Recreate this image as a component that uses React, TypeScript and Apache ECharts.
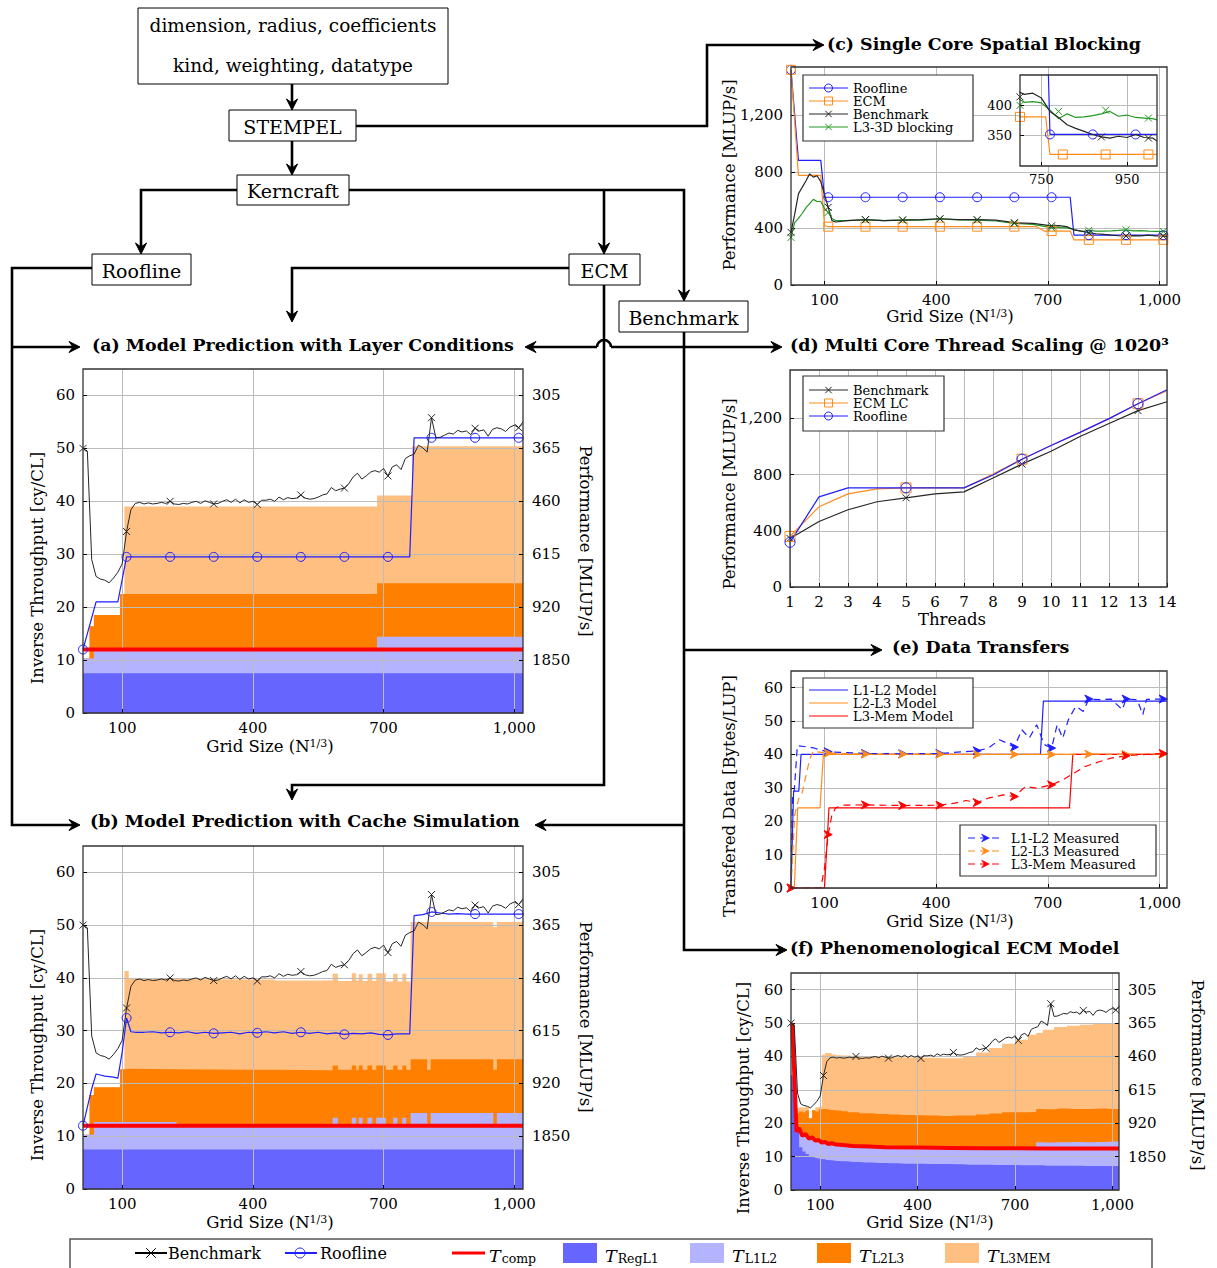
import React, { useEffect, useRef } from "react";
import * as echarts from "echarts";

const SERIF = '"DejaVu Serif", "Liberation Serif", serif';
const W = 1217;
const H = 1268;

const C_REG = "#6666ff";
const C_L1L2 = "#b3b3ff";
const C_L2L3 = "#ff8000";
const C_L3MEM = "#ffbf80";
const C_BLUE = "#1f1fff";
const C_ORANGE = "#ff8c1a";
const C_RED = "#ff0000";
const C_GREEN = "#229922";
const C_BLACK = "#262626";

// ---------- shared axis ticks ----------
const gridTicks = [100, 400, 700, 1000];
const cyTicks = [0, 10, 20, 30, 40, 50, 60];
const perfTickValues = [10, 20, 30, 40, 50, 60];
const perfTickLabels = ["1850", "920", "615", "460", "365", "305"];
const mlupTicks = [0, 400, 800, 1200];

// ---------- measured benchmark (cy/CL) used in (a), (b), (f) ----------
const gridSizes = [
  10, 20, 30, 40, 50, 60, 70, 80, 90, 100, 110, 120, 130, 140, 150, 160, 170, 180, 190, 200,
  210, 220, 230, 240, 250, 260, 270, 280, 290, 300, 310, 320, 330, 340, 350, 360, 370, 380, 390, 400,
  410, 420, 430, 440, 450, 460, 470, 480, 490, 500, 510, 520, 530, 540, 550, 560, 570, 580, 590, 600,
  610, 620, 630, 640, 650, 660, 670, 680, 690, 700, 710, 720, 730, 740, 750, 760, 770, 780, 790, 800,
  810, 820, 830, 840, 850, 860, 870, 880, 890, 900, 910, 920, 930, 940, 950, 960, 970, 980, 990, 1000,
  1010, 1020,
];
const benchmarkCy = [
  50.0, 49.5, 29.0, 25.8, 25.3, 25.1, 24.6, 25.5, 26.6, 28.2,
  34.3, 38.4, 39.6, 39.8, 39.5, 39.7, 39.5, 39.6, 39.8, 39.6,
  40.0, 39.5, 39.4, 39.6, 39.5, 39.8, 40.0, 39.6, 40.1, 39.8,
  39.5, 39.6, 40.0, 40.3, 39.8, 40.4, 39.7, 40.3, 39.8, 40.0,
  39.4, 40.2, 40.2, 40.4, 40.0, 40.8, 40.3, 40.7, 40.5, 40.6,
  41.2, 40.6, 40.4, 40.5, 40.8, 41.2, 41.4, 42.6, 42.0, 42.3,
  42.5, 43.3, 44.6, 45.3, 44.2, 44.8, 45.5, 45.8, 45.5, 46.2,
  44.8, 46.5, 46.9, 46.0, 48.1, 48.6, 48.9, 50.6, 50.1, 49.3,
  55.8, 52.0, 52.1, 52.5, 52.9, 52.7, 53.4, 53.1, 53.3, 52.6,
  53.8, 53.3, 53.5, 52.3, 53.6, 53.9, 53.7, 53.2, 54.0, 54.4,
  53.9, 55.0,
];

// ---------- (a) layer-condition model (cumulative tops, held until next x) ----------
const aModelX = [10, 25, 35, 95, 105, 685, 765, 1020];
const aRegL1Top = [7.5, 7.5, 7.5, 7.5, 7.5, 7.5, 7.5, 7.5];
const aL1L2Top = [10.3, 10.3, 12.0, 12.0, 12.0, 14.4, 14.4, 14.4];
const aL2L3Top = [10.3, 16.4, 18.5, 22.5, 22.5, 24.5, 24.5, 24.5];
const aL3MEMTop = [10.3, 16.4, 18.5, 22.5, 39.0, 41.1, 50.4, 50.4];
const aRoofline = [
  [10, 12], [20, 15], [30, 18], [40, 21], [90, 21], [110, 29.5], [210, 29.5], [310, 29.5],
  [410, 29.5], [510, 29.5], [610, 29.5], [710, 29.5], [760, 29.5], [770, 52], [810, 52],
  [910, 52], [1010, 52], [1020, 52],
];
const tComp = [[10, 12], [1020, 12]];

// ---------- (b) cache-simulation model ----------
const bModelX = [10, 25, 35, 95, 105, 115, 225, 450, 583, 595, 627, 637, 643, 652, 663, 674, 683, 705, 722, 732, 743, 752, 762, 800, 808, 952, 960, 1020];
const bRegL1Top = [7.5, 7.5, 7.5, 7.5, 7.5, 7.5, 7.5, 7.5, 7.5, 7.5, 7.5, 7.5, 7.5, 7.5, 7.5, 7.5, 7.5, 7.5, 7.5, 7.5, 7.5, 7.5, 7.5, 7.5, 7.5, 7.5, 7.5, 7.5];
const bL1L2Top = [10.3, 10.3, 12.7, 12.7, 12.7, 12.7, 12.0, 12.0, 13.5, 12.0, 13.5, 12.0, 13.5, 12.0, 13.5, 12.0, 13.5, 12.0, 13.5, 12.0, 13.5, 12.0, 14.4, 12.2, 14.4, 12.2, 14.4, 14.4];
const bL2L3Top = [10.3, 17.8, 19.3, 22.7, 22.8, 22.7, 22.6, 22.5, 23.4, 22.6, 23.4, 22.6, 23.4, 22.6, 23.4, 22.6, 23.4, 22.6, 23.4, 22.6, 23.4, 22.6, 24.6, 22.6, 24.6, 22.6, 24.6, 24.6];
const bL3MEMTop = [10.3, 17.8, 19.3, 22.7, 41.3, 39.8, 39.7, 39.5, 40.8, 39.4, 40.9, 39.5, 40.7, 39.4, 40.8, 39.4, 40.9, 39.3, 40.8, 39.3, 40.8, 39.3, 50.6, 50.6, 50.6, 49.6, 50.6, 50.6];
const bRoofline = [
  [10, 12], [20, 15.5], [30, 19], [40, 21.8], [50, 21.6], [60, 21.4], [70, 21.3], [80, 21.2], [90, 21.0],
  [100, 26], [110, 32.4], [120, 29.8], [130, 29.7], [150, 29.7], [170, 29.8], [190, 29.6], [210, 29.7],
  [230, 29.6], [250, 29.8], [270, 29.5], [290, 29.7], [310, 29.5], [330, 29.6], [350, 29.7], [370, 29.4],
  [390, 29.7], [410, 29.6], [430, 29.8], [450, 29.6], [470, 29.8], [490, 29.5], [510, 29.7], [530, 29.5],
  [550, 29.7], [570, 29.4], [590, 29.6], [610, 29.3], [630, 29.5], [650, 29.4], [670, 29.6], [690, 29.3],
  [710, 29.2], [730, 29.4], [760, 29.4], [770, 51.8], [790, 52.0], [810, 52.5], [830, 52.3], [850, 52.1],
  [870, 52.2], [890, 52.1], [910, 52.1], [950, 52.1], [1010, 52.1], [1020, 52.1],
];

// ---------- (c) single core spatial blocking (MLUP/s) ----------
const cGridSizes = [10, 20, 30, 40, 50, 60, 70, 80, 90, 100, 110, 120, 130, 160, 210, 260, 310, 360, 410, 460, 510, 560, 610, 660, 710, 730, 750, 770, 790, 810, 830, 850, 870, 890, 910, 930, 950, 970, 990, 1010, 1020];
const cBenchmark = [372, 500, 644, 690, 735, 785, 762, 772, 730, 640, 549, 455, 445, 455, 462, 455, 458, 462, 468, 462, 462, 458, 440, 435, 418, 420, 412, 390, 380, 368, 362, 357, 352, 348, 346, 349, 347, 352, 347, 346, 341];
const cL3Blocking = [336, 440, 470, 505, 545, 575, 605, 590, 590, 540, 513, 470, 455, 455, 460, 455, 460, 458, 467, 460, 458, 452, 435, 428, 405, 406, 404, 392, 378, 386, 380, 381, 383, 386, 390, 382, 384, 380, 379, 378, 376];
const cRoofline = [
  [10, 1520], [30, 880], [90, 880], [100, 620], [110, 620], [210, 620], [310, 620], [410, 620], [510, 620],
  [610, 620], [710, 620], [760, 620], [770, 352], [810, 352], [910, 352], [1010, 352], [1020, 352],
];
const cEcm = [
  [10, 1520], [30, 775], [90, 775], [100, 420], [110, 412], [210, 412], [310, 412], [410, 412], [510, 412],
  [610, 412], [670, 412], [690, 381], [710, 381], [760, 381], [770, 319], [810, 319], [910, 319], [1010, 319], [1020, 319],
];
const insetRoofMarks = [[770, 352], [870, 352], [970, 352]];
const insetEcmMarks = [[700, 381], [800, 319], [900, 319], [1000, 319]];
const insetBenchMarks = [[700, 414], [890, 348], [1000, 346]];
const insetL3Marks = [[700, 400], [790, 390], [900, 392], [1000, 379]];

// ---------- (d) multi core thread scaling ----------
const threads = [1, 2, 3, 4, 5, 6, 7, 8, 9, 10, 11, 12, 13, 14];
const dBenchmark = [346, 466, 550, 607, 635, 663, 677, 776, 875, 966, 1072, 1164, 1256, 1319];
const dEcmLC = [360, 571, 663, 698, 706, 707, 706, 804, 910, 1008, 1101, 1199, 1305, 1397];
const dRoofline = [318, 642, 706, 706, 706, 706, 706, 797, 910, 1008, 1101, 1199, 1305, 1404];
const dMarkThreads = [1, 5, 9, 13];

// ---------- (e) data transfers (Bytes/LUP) ----------
const eL1L2Model = [[10, 0], [11, 0], [17, 29], [31, 29], [37, 40], [680, 40], [688, 56], [1020, 56]];
const eL2L3Model = [[10, 0], [19, 0], [28, 24], [88, 24], [97, 40], [1020, 40]];
const eL3MemModel = [[10, 0], [100, 0], [112, 24], [758, 24], [767, 40], [1020, 40]];
const eL1L2Measured = [
  [10, 0], [14, 27], [19, 29.5], [27, 42.6], [50, 42.3], [70, 42], [90, 41.3], [110, 40.8], [210, 40.3],
  [310, 40.2], [410, 40.3], [510, 41.1], [540, 41.9], [570, 44.4], [590, 43.4], [610, 42.2], [630, 47.4],
  [650, 44.9], [670, 48.9], [690, 43], [710, 41.9], [725, 48.9], [740, 44.9], [755, 50.4], [775, 54.4],
  [795, 52.9], [810, 56.6], [840, 56.4], [870, 56.6], [900, 53.4], [910, 56.6], [940, 56.4], [955, 51.9],
  [965, 56.5], [1010, 56.6], [1020, 56.4],
];
const eL2L3Measured = [
  [10, 0], [20, 22], [30, 26.5], [40, 28.5], [50, 33.5], [60, 38.5], [70, 41], [80, 40.8], [110, 40.4],
  [210, 40.1], [310, 40.1], [410, 40.1], [510, 40.0], [610, 40.0], [710, 40.0], [810, 40.1], [910, 40.0],
  [1010, 40.1], [1020, 40.0],
];
const eL3MemMeasured = [
  [10, 0], [90, 0], [100, 5.9], [110, 16], [120, 22], [130, 24], [150, 24.8], [210, 24.9], [310, 24.7],
  [410, 24.8], [450, 25.4], [480, 26.2], [510, 25.6], [540, 26.9], [580, 27.9], [610, 27.4], [640, 30.4],
  [670, 29.9], [710, 30.9], [740, 32.4], [770, 34.4], [800, 36.4], [840, 37.9], [870, 38.9], [910, 39.6],
  [950, 39.9], [1010, 40.3], [1020, 40.2],
];

// ---------- (f) phenomenological ECM model ----------
const fModelX = [10, 20, 30, 40, 50, 60, 70, 80, 90, 100, 110, 120, 130, 140, 150, 170, 200, 240, 280, 320, 360, 400, 440, 480, 520, 560, 600, 640, 680, 720, 760, 770, 800, 840, 880, 920, 960, 1000, 1020];
const fRegL1Top = [34.3, 33.5, 19, 12.8, 11.5, 10.8, 10.2, 9.8, 9.5, 9.3, 9.2, 9.0, 8.9, 8.8, 8.7, 8.6, 8.4, 8.2, 8.1, 8.0, 7.9, 7.9, 7.8, 7.8, 7.7, 7.6, 7.6, 7.5, 7.5, 7.4, 7.4, 7.4, 7.3, 7.3, 7.3, 7.2, 7.2, 7.2, 7.2];
const fL1L2Top = [34.3, 33.5, 17.3, 17.6, 16.0, 16.2, 15.0, 15.1, 14.3, 14.4, 13.8, 13.8, 13.4, 13.5, 13.2, 13.1, 12.9, 12.8, 12.7, 12.6, 12.5, 12.5, 12.4, 12.4, 12.3, 12.3, 12.3, 12.3, 12.3, 12.3, 12.4, 14.3, 14.2, 14.3, 14.4, 14.3, 14.4, 14.5, 14.5];
const fL2L3Top = [34.3, 33.5, 23.0, 23.5, 23.3, 23.8, 21.5, 23.9, 23.5, 24.2, 24.3, 24.2, 24.0, 24.0, 23.8, 23.6, 23.3, 23.0, 22.8, 22.6, 22.5, 22.4, 22.3, 22.2, 22.3, 22.3, 22.6, 22.9, 23.3, 23.3, 23.4, 24.3, 24.2, 24.4, 24.3, 24.3, 24.4, 24.3, 24.3];
const fL3MEMTop = [34.3, 33.5, 24.5, 24.8, 24.6, 24.9, 21.5, 23.9, 24.8, 25.0, 40.5, 41.0, 41.0, 40.6, 40.4, 40.3, 40.2, 40.0, 39.8, 39.8, 39.7, 39.6, 39.6, 39.5, 39.5, 40.0, 41.2, 42.5, 43.8, 45.0, 46.5, 47.0, 48.0, 48.8, 49.2, 49.5, 49.8, 50.0, 50.0];
const fTComp = [
  [10, 49.8], [14, 49.5], [27, 17.5], [35, 18.6], [45, 16.2], [55, 16.8], [65, 15.4], [75, 15.8], [85, 14.8],
  [95, 15.0], [105, 14.2], [115, 14.4], [125, 13.8], [135, 14.0], [150, 13.6], [170, 13.5], [200, 13.2],
  [250, 13.0], [300, 12.8], [400, 12.7], [500, 12.6], [600, 12.5], [700, 12.5], [800, 12.4], [900, 12.4], [1020, 12.4],
];

// ---------- helpers ----------
const fmtNum = (v: number) => {
  const s = String(Math.round(v));
  return s.length > 3 ? s.slice(0, s.length - 3) + "," + s.slice(-3) : s;
};
const perfFmt = (v: number) => {
  const i = perfTickValues.indexOf(v);
  return i >= 0 ? perfTickLabels[i] : "";
};
const CROSS = "path://M0,0L10,10M0,10L10,0";
const ARROW = "path://M0,0L10,5L0,10L3,5Z";

function xAx(gridIndex: number, min: number, max: number, ticks: number[] | null, size = 15, z = 3) {
  const ax: any = {
    type: "value", gridIndex, min, max, z,
    axisLine: { show: false },
    axisTick: { show: true, inside: true, length: 4, lineStyle: { color: "#000" } },
    axisLabel: { formatter: fmtNum, fontFamily: SERIF, fontSize: size, color: "#000", margin: 7 },
    splitLine: { show: true, lineStyle: { color: "#bcbcbc", width: 1 } },
  };
  if (ticks) { ax.axisTick.customValues = ticks; ax.axisLabel.customValues = ticks; } else { ax.interval = 1; }
  return ax;
}
function yAx(gridIndex: number, min: number, max: number, ticks: number[], size = 15, z = 3) {
  return {
    type: "value", gridIndex, min, max, z,
    axisLine: { show: false },
    axisTick: { show: true, inside: true, length: 4, lineStyle: { color: "#000" }, customValues: ticks },
    axisLabel: { customValues: ticks, formatter: fmtNum, fontFamily: SERIF, fontSize: size, color: "#000", margin: 8 },
    splitLine: { show: true, lineStyle: { color: "#bcbcbc", width: 1 } },
  };
}
function yPerf(gridIndex: number) {
  return {
    type: "value", gridIndex, min: 0, max: 65, position: "right", z: 3,
    axisLine: { show: false },
    axisTick: { show: true, inside: true, length: 4, lineStyle: { color: "#000" }, customValues: perfTickValues },
    axisLabel: { customValues: perfTickValues, formatter: perfFmt, fontFamily: SERIF, fontSize: 15, color: "#000", margin: 9 },
    splitLine: { show: false },
  };
}
function areas(xi: number, yi: number, xs: number[], tops: number[][], colors: string[], step: string) {
  return tops.map((t, k) => ({
    type: "line", xAxisIndex: xi, yAxisIndex: yi, step, symbol: "none", silent: true, z: 2,
    data: xs.map((x, i) => [x, t[i]]),
    lineStyle: { width: 0, opacity: 0 },
    areaStyle: { color: colors[k], opacity: 1 },
  }));
}
function lineS(xi: number, yi: number, data: any[], color: string, width: number, z = 5, dash: any = "solid") {
  return {
    type: "line", xAxisIndex: xi, yAxisIndex: yi, data, symbol: "none", silent: true, z,
    lineStyle: { color, width, type: dash },
  };
}
function markS(xi: number, yi: number, data: any[], symbol: string, size: number, color: string, filled = false, z = 6) {
  return {
    type: "scatter", xAxisIndex: xi, yAxisIndex: yi, data, symbol, symbolSize: size, silent: true, z,
    itemStyle: { color: filled ? color : "rgba(0,0,0,0)", borderColor: color, borderWidth: 1, opacity: 1 },
  };
}
const every100 = (pts: number[][]) => pts.filter((p) => p[0] % 100 === 10);

// graphic helpers
function txt(x: number, y: number, text: string, size: number, o: any = {}) {
  const style: any = {
    text, fontFamily: SERIF, fontSize: size, fontWeight: o.bold ? "bold" : "normal",
    fontStyle: o.italic ? "italic" : "normal", fill: "#000", align: o.align || "left",
    verticalAlign: "middle",
  };
  if (o.rich) style.rich = o.rich;
  if (o.lh) style.lineHeight = o.lh;
  return { type: "text", x, y, z: 30, silent: true, rotation: o.rot || 0, style };
}
function rectG(x: number, y: number, w: number, h: number, o: any = {}) {
  return {
    type: "rect", z: o.z ?? 30, silent: true, shape: { x, y, width: w, height: h },
    style: { fill: o.fill ?? "none", stroke: o.stroke ?? "#000", lineWidth: o.lw ?? 1 },
  };
}
function poly(points: number[][], lw = 2.6, color = "#000") {
  return { type: "polyline", z: 30, silent: true, shape: { points }, style: { stroke: color, lineWidth: lw, fill: "none" } };
}
function head(x: number, y: number, dir: string) {
  const L = 11, Wd = 5.5, N = 7;
  let pts: number[][] = [];
  if (dir === "r") pts = [[x, y], [x - L, y - Wd], [x - N, y], [x - L, y + Wd]];
  if (dir === "l") pts = [[x, y], [x + L, y - Wd], [x + N, y], [x + L, y + Wd]];
  if (dir === "d") pts = [[x, y], [x - Wd, y - L], [x, y - N], [x + Wd, y - L]];
  if (dir === "u") pts = [[x, y], [x - Wd, y + L], [x, y + N], [x + Wd, y + L]];
  return { type: "polygon", z: 31, silent: true, shape: { points: pts }, style: { fill: "#000", stroke: "#000", lineWidth: 1 } };
}
function gl(x1: number, y1: number, x2: number, y2: number, color: string, lw = 1, dash: any = null) {
  return { type: "line", z: 31, silent: true, shape: { x1, y1, x2, y2 }, style: { stroke: color, lineWidth: lw, lineDash: dash } };
}
function gmark(kind: string, cx: number, cy: number, color: string, s = 4) {
  if (kind === "circle") return [{ type: "circle", z: 32, silent: true, shape: { cx, cy, r: s }, style: { fill: "none", stroke: color, lineWidth: 1 } }];
  if (kind === "square") return [{ type: "rect", z: 32, silent: true, shape: { x: cx - s, y: cy - s, width: 2 * s, height: 2 * s }, style: { fill: "none", stroke: color, lineWidth: 1 } }];
  if (kind === "cross") return [gl(cx - s * 0.8, cy - s * 0.8, cx + s * 0.8, cy + s * 0.8, color), gl(cx - s * 0.8, cy + s * 0.8, cx + s * 0.8, cy - s * 0.8, color)];
  if (kind === "arrow") return [{ type: "polygon", z: 32, silent: true, shape: { points: [[cx + 4, cy], [cx - 4, cy - 4], [cx - 1.5, cy], [cx - 4, cy + 4]] }, style: { fill: color, stroke: color, lineWidth: 0.5 } }];
  return [];
}
function legendBox(x: number, y: number, w: number, h: number, rows: any[], lx1: number, lx2: number, tx: number, size = 13) {
  const out: any[] = [rectG(x, y, w, h, { fill: "#fff", z: 29, lw: 1.2, stroke: "#333" })];
  rows.forEach((r) => {
    out.push(gl(lx1, r.y, lx2, r.y, r.color, 1, r.dash || null));
    if (r.mark) out.push(...gmark(r.mark, (lx1 + lx2) / 2, r.y, r.color));
    out.push(txt(tx, r.y, r.label, size, { lh: 11 }));
  });
  return out;
}

function buildOption() {
  const grids = [
    { left: 83, top: 369, width: 440, height: 344 },
    { left: 83, top: 846, width: 440, height: 343 },
    { left: 791, top: 67, width: 376, height: 218 },
    { left: 1020, top: 75, width: 137, height: 91 },
    { left: 790, top: 370, width: 377, height: 217 },
    { left: 791, top: 671, width: 376, height: 217 },
    { left: 791, top: 973, width: 328, height: 217 },
  ];
  const xAxis = [
    xAx(0, 10, 1020, gridTicks),
    xAx(1, 10, 1020, gridTicks),
    xAx(2, 10, 1020, gridTicks),
    xAx(3, 700, 1020, [750, 950], 13, 8),
    xAx(4, 1, 14, null),
    xAx(5, 10, 1020, gridTicks),
    xAx(6, 10, 1020, gridTicks),
  ];
  const yAxis = [
    yAx(0, 0, 65, cyTicks), yPerf(0),
    yAx(1, 0, 65, cyTicks), yPerf(1),
    yAx(2, 0, 1540, mlupTicks),
    yAx(3, 300, 450, [350, 400], 13, 8),
    yAx(4, 0, 1545, mlupTicks),
    yAx(5, 0, 65, cyTicks),
    yAx(6, 0, 65, cyTicks), yPerf(6),
  ];
  const benchPts = gridSizes.map((x, i) => [x, benchmarkCy[i]]);
  const benchMarks = every100(benchPts);
  const stackColors = [C_L3MEM, C_L2L3, C_L1L2, C_REG];
  const S: any[] = [];
  // (a)
  S.push(...areas(0, 0, aModelX, [aL3MEMTop, aL2L3Top, aL1L2Top, aRegL1Top], stackColors, "end"));
  S.push(lineS(0, 0, tComp, C_RED, 4, 4));
  S.push(lineS(0, 0, aRoofline, C_BLUE, 1.2));
  S.push(markS(0, 0, every100(aRoofline), "circle", 9, C_BLUE));
  S.push(lineS(0, 0, benchPts, C_BLACK, 1));
  S.push(markS(0, 0, benchMarks, CROSS, 7, C_BLACK));
  // (b)
  S.push(...areas(1, 2, bModelX, [bL3MEMTop, bL2L3Top, bL1L2Top, bRegL1Top], stackColors, "end"));
  S.push(lineS(1, 2, tComp, C_RED, 4, 4));
  S.push(lineS(1, 2, bRoofline, C_BLUE, 1.2));
  S.push(markS(1, 2, every100(bRoofline), "circle", 9, C_BLUE));
  S.push(lineS(1, 2, benchPts, C_BLACK, 1));
  S.push(markS(1, 2, benchMarks, CROSS, 7, C_BLACK));
  // (c)
  const cB = cGridSizes.map((x, i) => [x, cBenchmark[i]]);
  const cG = cGridSizes.map((x, i) => [x, cL3Blocking[i]]);
  S.push(lineS(2, 4, cRoofline, C_BLUE, 1.2));
  S.push(lineS(2, 4, cEcm, C_ORANGE, 1.2));
  S.push(lineS(2, 4, cG, C_GREEN, 1.2));
  S.push(lineS(2, 4, cB, C_BLACK, 1.2));
  S.push(markS(2, 4, every100(cRoofline), "circle", 9, C_BLUE));
  S.push(markS(2, 4, every100(cEcm), "rect", 9, C_ORANGE));
  S.push(markS(2, 4, every100(cG), CROSS, 7, C_GREEN));
  S.push(markS(2, 4, every100(cB), CROSS, 7, C_BLACK));
  // (c) inset
  S.push(lineS(3, 5, cRoofline, C_BLUE, 1.2, 9));
  S.push(lineS(3, 5, cEcm, C_ORANGE, 1.2, 9));
  S.push(lineS(3, 5, cG, C_GREEN, 1.2, 9));
  S.push(lineS(3, 5, cB, C_BLACK, 1.2, 9));
  S.push(markS(3, 5, insetRoofMarks, "circle", 9, C_BLUE, false, 10));
  S.push(markS(3, 5, insetEcmMarks, "rect", 9, C_ORANGE, false, 10));
  S.push(markS(3, 5, insetL3Marks, CROSS, 7, C_GREEN, false, 10));
  S.push(markS(3, 5, insetBenchMarks, CROSS, 7, C_BLACK, false, 10));
  // (d)
  const dB = threads.map((t, i) => [t, dBenchmark[i]]);
  const dE = threads.map((t, i) => [t, dEcmLC[i]]);
  const dR = threads.map((t, i) => [t, dRoofline[i]]);
  const sel = (p: number[][]) => p.filter((q) => dMarkThreads.includes(q[0]));
  S.push(lineS(4, 6, dB, C_BLACK, 1.2));
  S.push(lineS(4, 6, dE, C_ORANGE, 1.2));
  S.push(lineS(4, 6, dR, C_BLUE, 1.2));
  S.push(markS(4, 6, sel(dB), CROSS, 7, C_BLACK));
  S.push(markS(4, 6, sel(dE), "rect", 10, C_ORANGE));
  S.push(markS(4, 6, sel(dR), "circle", 10, C_BLUE));
  // (e)
  S.push(lineS(5, 7, eL1L2Model, C_BLUE, 1.2));
  S.push(lineS(5, 7, eL2L3Model, C_ORANGE, 1.2));
  S.push(lineS(5, 7, eL3MemModel, C_RED, 1.2));
  S.push(lineS(5, 7, eL1L2Measured, C_BLUE, 1.2, 5, [7, 5]));
  S.push(lineS(5, 7, eL2L3Measured, C_ORANGE, 1.2, 5, [7, 5]));
  S.push(lineS(5, 7, eL3MemMeasured, C_RED, 1.2, 5, [7, 5]));
  S.push(markS(5, 7, every100(eL1L2Measured), ARROW, 8, C_BLUE, true));
  S.push(markS(5, 7, every100(eL2L3Measured), ARROW, 8, C_ORANGE, true));
  S.push(markS(5, 7, every100(eL3MemMeasured), ARROW, 8, C_RED, true));
  // (f)
  S.push(...areas(6, 8, fModelX, [fL3MEMTop, fL2L3Top, fL1L2Top, fRegL1Top], stackColors, "middle"));
  S.push(lineS(6, 8, fTComp, C_RED, 4, 4));
  S.push(lineS(6, 8, benchPts, C_BLACK, 1));
  S.push(markS(6, 8, benchMarks, CROSS, 7, C_BLACK));

  // ---------- graphics ----------
  const G: any[] = [];
  grids.forEach((g, i) => {
    if (i === 3) G.push(rectG(g.left, g.top, g.width, g.height, { fill: "#fff", z: 7, stroke: "none", lw: 0 }));
    G.push(rectG(g.left, g.top, g.width, g.height, { stroke: "#333", lw: 1.3, z: 20 }));
  });
  // flowchart boxes
  const boxFont = 18.5;
  G.push(rectG(138, 8, 310, 76, { fill: "#fff" }));
  G.push(txt(293, 25, "dimension, radius, coefficients", boxFont, { align: "center" }));
  G.push(txt(293, 65, "kind, weighting, datatype", boxFont, { align: "center" }));
  const boxes: [number, number, number, number, string][] = [
    [229, 110, 127, 31, "STEMPEL"],
    [237, 175, 112, 30, "Kerncraft"],
    [92, 254, 99, 31, "Roofline"],
    [569, 254, 71, 31, "ECM"],
    [619, 301, 129, 31, "Benchmark"],
  ];
  boxes.forEach(([x, y, w, h, t]) => {
    G.push(rectG(x, y, w, h, { fill: "#fff" }));
    G.push(txt(x + w / 2, y + h / 2 + 1, t, boxFont + 0.5, { align: "center" }));
  });
  // flowchart arrows
  G.push(poly([[292, 84], [292, 104]]), head(292, 110, "d"));
  G.push(poly([[292, 141], [292, 169]]), head(292, 175, "d"));
  G.push(poly([[356, 126], [707, 126], [707, 45], [818, 45]]), head(824, 45, "r"));
  G.push(poly([[237, 190], [141, 190], [141, 248]]), head(141, 254, "d"));
  G.push(poly([[349, 190], [684, 190], [684, 295]]), head(684, 301, "d"));
  G.push(poly([[604, 190], [604, 248]]), head(604, 254, "d"));
  G.push(poly([[92, 268], [12, 268], [12, 825], [74, 825]]), head(80, 825, "r"));
  G.push(poly([[12, 347], [74, 347]]), head(80, 347, "r"));
  G.push(poly([[569, 268], [292, 268], [292, 316]]), head(292, 322, "d"));
  G.push(poly([[604, 285], [604, 785], [292, 785], [292, 794]]), head(292, 800, "d"));
  G.push(poly([[684, 332], [684, 950], [781, 950]]), head(787, 950, "r"));
  G.push(poly([[684, 347], [776, 347]]), head(782, 347, "r"));
  G.push(poly([[684, 347], [611, 347]]));
  G.push({ type: "arc", z: 30, silent: true, shape: { cx: 604, cy: 347, r: 7, startAngle: Math.PI, endAngle: Math.PI * 2, clockwise: true }, style: { stroke: "#000", lineWidth: 2.6, fill: "none" } });
  G.push(poly([[597, 347], [531, 347]]), head(525, 347, "l"));
  G.push(poly([[684, 650], [876, 650]]), head(882, 650, "r"));
  G.push(poly([[684, 825], [541, 825]]), head(535, 825, "l"));

  // titles
  const tf = 17.4;
  G.push(txt(92, 345, "(a) Model Prediction with Layer Conditions", tf, { bold: true }));
  G.push(txt(90, 821, "(b) Model Prediction with Cache Simulation", tf, { bold: true }));
  G.push(txt(827, 44, "(c) Single Core Spatial Blocking", tf, { bold: true }));
  G.push(txt(790, 345, "(d) Multi Core Thread Scaling @ 1020³", tf, { bold: true }));
  G.push(txt(892, 647, "(e) Data Transfers", tf, { bold: true }));
  G.push(txt(790, 948, "(f) Phenomenological ECM Model", tf, { bold: true }));

  // axis titles
  const af = 16.5;
  const gridRich = { s: { fontSize: 11, fontFamily: SERIF, verticalAlign: "top", padding: [0, 0, 6, 0] } };
  const gridLabel = "Grid Size (N{s|1/3})";
  G.push(txt(270, 746, gridLabel, af, { align: "center", rich: gridRich }));
  G.push(txt(270, 1222, gridLabel, af, { align: "center", rich: gridRich }));
  G.push(txt(950, 316, gridLabel, af, { align: "center", rich: gridRich }));
  G.push(txt(952, 619, "Threads", af, { align: "center" }));
  G.push(txt(950, 921, gridLabel, af, { align: "center", rich: gridRich }));
  G.push(txt(930, 1222, gridLabel, af, { align: "center", rich: gridRich }));
  const up = Math.PI / 2;
  G.push(txt(37, 568, "Inverse Throughput [cy/CL]", af, { align: "center", rot: up }));
  G.push(txt(37, 1045, "Inverse Throughput [cy/CL]", af, { align: "center", rot: up }));
  G.push(txt(743, 1098, "Inverse Throughput [cy/CL]", af, { align: "center", rot: up }));
  G.push(txt(585, 541, "Performance [MLUP/s]", af, { align: "center", rot: -up }));
  G.push(txt(585, 1017, "Performance [MLUP/s]", af, { align: "center", rot: -up }));
  G.push(txt(1197, 1075, "Performance [MLUP/s]", af, { align: "center", rot: -up }));
  G.push(txt(729, 175, "Performance [MLUP/s]", af, { align: "center", rot: up }));
  G.push(txt(729, 494, "Performance [MLUP/s]", af, { align: "center", rot: up }));
  G.push(txt(729, 796, "Transfered Data [Bytes/LUP]", af, { align: "center", rot: up }));

  // legends
  G.push(...legendBox(803, 75, 170, 66, [
    { y: 88, label: "Roofline", color: C_BLUE, mark: "circle" },
    { y: 101, label: "ECM", color: C_ORANGE, mark: "square" },
    { y: 114, label: "Benchmark", color: C_BLACK, mark: "cross" },
    { y: 127, label: "L3-3D blocking", color: C_GREEN, mark: "cross" },
  ], 809, 848, 853));
  G.push(...legendBox(803, 376, 141, 55, [
    { y: 390, label: "Benchmark", color: C_BLACK, mark: "cross" },
    { y: 403, label: "ECM LC", color: C_ORANGE, mark: "square" },
    { y: 416, label: "Roofline", color: C_BLUE, mark: "circle" },
  ], 809, 848, 853));
  G.push(...legendBox(803, 678, 170, 50, [
    { y: 690, label: "L1-L2 Model", color: C_BLUE },
    { y: 703, label: "L2-L3 Model", color: C_ORANGE },
    { y: 716, label: "L3-Mem Model", color: C_RED },
  ], 809, 848, 853));
  G.push(...legendBox(960, 825, 196, 51, [
    { y: 838, label: "L1-L2 Measured", color: C_BLUE, mark: "arrow", dash: [7, 5] },
    { y: 851, label: "L2-L3 Measured", color: C_ORANGE, mark: "arrow", dash: [7, 5] },
    { y: 864, label: "L3-Mem Measured", color: C_RED, mark: "arrow", dash: [7, 5] },
  ], 968, 1003, 1011));

  // bottom legend
  const ly = 1253;
  G.push(rectG(70, 1239, 1082, 45, { stroke: "#555", lw: 1.5, fill: "#fff", z: 28 }));
  G.push(gl(135, ly, 167, ly, "#000", 2), ...gmark("cross", 151, ly, "#000", 6));
  G.push(txt(168, ly, "Benchmark", 16));
  G.push(gl(285, ly, 317, ly, C_BLUE, 2), ...gmark("circle", 300, ly, C_BLUE, 5));
  G.push(txt(320, ly, "Roofline", 16));
  G.push(gl(452, ly, 485, ly, C_RED, 3));
  const legT = (x: number, sub: string) => ({
    type: "text", x, y: ly + 1, z: 32, silent: true,
    style: {
      text: `{t|T}{s|${sub}}`,
      rich: {
        t: { fontFamily: SERIF, fontSize: 17.5, fontStyle: "italic", lineHeight: 22, verticalAlign: "bottom" },
        s: { fontFamily: SERIF, fontSize: 12.5, lineHeight: 22, verticalAlign: "bottom", padding: [0, 0, 0, 1] },
      },
      fill: "#000", align: "left", verticalAlign: "middle",
    },
  });
  G.push(legT(489, "comp"));
  const sq: [number, string, string][] = [[563, C_REG, "RegL1"], [690, C_L1L2, "L1L2"], [817, C_L2L3, "L2L3"], [945, C_L3MEM, "L3MEM"]];
  sq.forEach(([x, c, s]) => {
    G.push({ type: "rect", z: 32, silent: true, shape: { x, y: ly - 10, width: 34, height: 20 }, style: { fill: c } });
    G.push(legT(x + 42, s));
  });

  return {
    animation: false,
    backgroundColor: "#fff",
    grid: grids.map((g) => ({ ...g, containLabel: false, show: false })),
    xAxis,
    yAxis,
    series: S,
    graphic: { elements: G },
  };
}

export default function App() {
  const ref = useRef<HTMLDivElement>(null);
  useEffect(() => {
    const chart = echarts.init(ref.current as HTMLDivElement, null, { renderer: "svg" });
    chart.setOption(buildOption() as any);
    return () => chart.dispose();
  }, []);
  return (
    <div
      ref={ref}
      style={{ position: "absolute", left: 0, top: 0, width: W, height: H, background: "#fff" }}
    />
  );
}
